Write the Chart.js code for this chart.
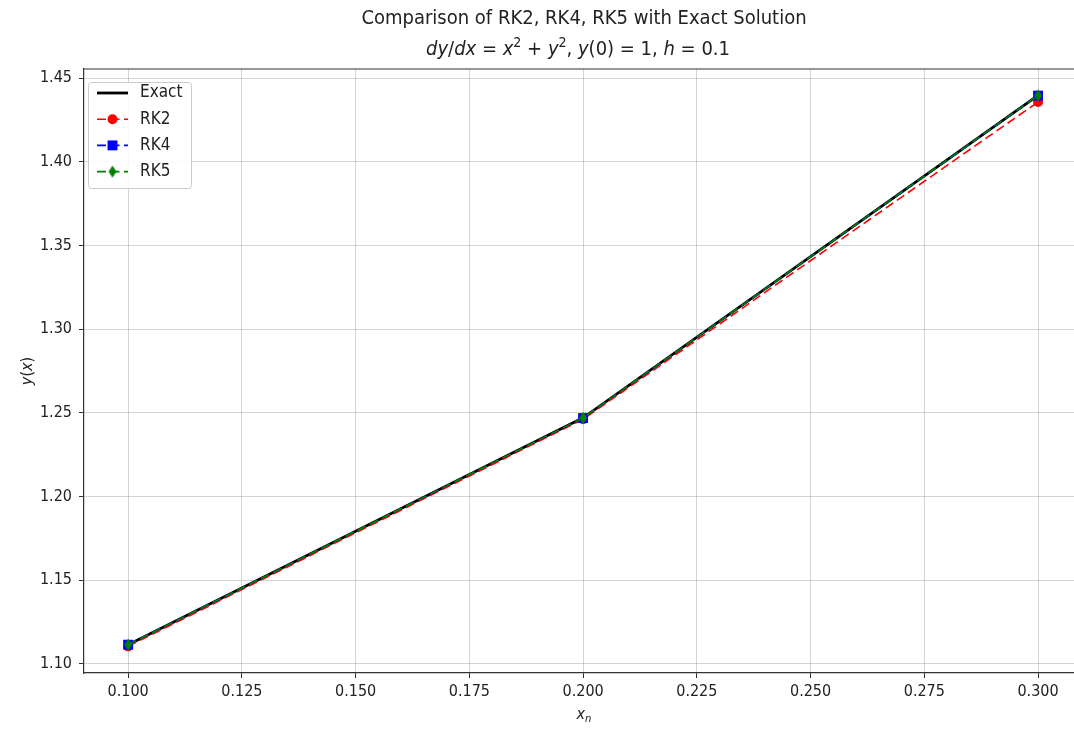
<!DOCTYPE html>
<html>
<head>
<meta charset="utf-8">
<script src="https://cdn.jsdelivr.net/npm/chart.js@4.4.1/dist/chart.umd.min.js"></script>
<style>
  html, body { margin: 0; padding: 0; background: #fff; overflow: hidden; }
  #wrap { width: 1074px; height: 729px; }
  canvas { display: block; }
</style>
</head>
<body>
<div id="wrap"><canvas id="rk-chart" width="1074" height="729"></canvas></div>
<script>
// values
var xn = [0.1, 0.2, 0.3];
var exactY = [1.1115, 1.2470, 1.4397];
var rk2Y = [1.1105, 1.2462, 1.4357];
var rk4Y = [1.1115, 1.2469, 1.4395];
var rk5Y = [1.1115, 1.2470, 1.4396];
var xTicks = [0.1, 0.125, 0.15, 0.175, 0.2, 0.225, 0.25, 0.275, 0.3];
var yTicks = [1.10, 1.15, 1.20, 1.25, 1.30, 1.35, 1.40, 1.45];
var seriesNames = ["Exact", "RK2", "RK4", "RK5"];

var FONT = "'DejaVu Sans Condensed', 'DejaVu Sans'";

function pts(ys) {
  return xn.map(function (x, i) { return { x: x, y: ys[i] }; });
}

// thin diamond marker like matplotlib 'd'
function thinDiamond(color, w, h) {
  var c = document.createElement("canvas");
  c.width = w + 2;
  c.height = h + 2;
  var g = c.getContext("2d");
  g.fillStyle = color;
  g.beginPath();
  g.moveTo(c.width / 2, 1);
  g.lineTo(c.width - 1, c.height / 2);
  g.lineTo(c.width / 2, c.height - 1);
  g.lineTo(1, c.height / 2);
  g.closePath();
  g.fill();
  return c;
}
var diamondImg = thinDiamond("#008000", 8, 12);

var dash = [9, 4.5];

var datasets = [
  {
    label: seriesNames[0], data: pts(exactY),
    borderColor: "#000000", borderWidth: 2.8, pointRadius: 0, order: 4
  },
  {
    label: seriesNames[1], data: pts(rk2Y),
    borderColor: "#ff0000", backgroundColor: "#ff0000", borderWidth: 1.6,
    borderDash: dash, pointStyle: "circle", pointRadius: 5, pointBorderWidth: 0, order: 3
  },
  {
    label: seriesNames[2], data: pts(rk4Y),
    borderColor: "#0000ff", backgroundColor: "#0000ff", borderWidth: 1.6,
    borderDash: dash, pointStyle: "rect", pointRadius: 7, pointBorderWidth: 0, order: 2
  },
  {
    label: seriesNames[3], data: pts(rk5Y),
    borderColor: "#008000", backgroundColor: "#008000", borderWidth: 1.6,
    borderDash: dash, pointStyle: diamondImg, pointRadius: 6, order: 1
  }
];

function drawRich(ctx, parts, cx, cy, size) {
  // parts: [text, kind] kind: r regular, i italic, sup superscript, sub subscript
  function fontFor(k) {
    var s = (k === "sup" || k === "sub") ? size * 0.7 : size;
    var it = (k === "i" || k === "sub") ? "italic " : "";
    return it + s + "px " + FONT;
  }
  var total = 0;
  parts.forEach(function (p) {
    ctx.font = fontFor(p[1]);
    p.w = ctx.measureText(p[0]).width;
    total += p.w;
  });
  var x = cx - total / 2;
  ctx.textAlign = "left";
  ctx.textBaseline = "alphabetic";
  var base = cy + size * 0.36;
  parts.forEach(function (p) {
    ctx.font = fontFor(p[1]);
    var y = base;
    if (p[1] === "sup") y = base - size * 0.42;
    if (p[1] === "sub") y = base + size * 0.2;
    ctx.fillText(p[0], x, y);
    x += p.w;
  });
}

var decorPlugin = {
  id: "decor",
  afterDraw: function (chart) {
    var ctx = chart.ctx;
    var a = chart.chartArea;
    var cx = 584;
    ctx.save();

    // top spine
    ctx.strokeStyle = "#333";
    ctx.lineWidth = 1.2;
    ctx.beginPath();
    ctx.moveTo(a.left, a.top);
    ctx.lineTo(a.right, a.top);
    ctx.stroke();

    // titles
    ctx.fillStyle = "#222";
    ctx.font = "20px " + FONT;
    ctx.textAlign = "center";
    ctx.textBaseline = "middle";
    ctx.fillText("Comparison of RK2, RK4, RK5 with Exact Solution", cx, 19);
    drawRich(ctx, [
      ["dy", "i"], ["/", "r"], ["dx", "i"], [" = ", "r"], ["x", "i"], ["2", "sup"],
      [" + ", "r"], ["y", "i"], ["2", "sup"], [", ", "r"], ["y", "i"], ["(0)", "r"],
      [" = ", "r"], ["1, ", "r"], ["h", "i"], [" = ", "r"], ["0.1", "r"]
    ], 578, 48, 20);

    // axis titles
    drawRich(ctx, [["x", "i"], ["n", "sub"]], cx, 713, 16);
    ctx.save();
    ctx.translate(26, (a.top + a.bottom) / 2);
    ctx.rotate(-Math.PI / 2);
    drawRich(ctx, [["y", "i"], ["(", "r"], ["x", "i"], [")", "r"]], 0, 0, 16);
    ctx.restore();

    // legend
    var lx = 88, ly = 82, lw = 103, lh = 106;
    ctx.fillStyle = "rgba(255,255,255,0.85)";
    ctx.strokeStyle = "#cccccc";
    ctx.lineWidth = 1;
    ctx.beginPath();
    ctx.roundRect(lx + 0.5, ly + 0.5, lw, lh, 3);
    ctx.fill();
    ctx.stroke();
    chart.data.datasets.forEach(function (ds, i) {
      var y = 93 + i * 26.2;
      ctx.strokeStyle = ds.borderColor;
      ctx.lineWidth = ds.borderWidth;
      ctx.setLineDash(ds.borderDash || []);
      ctx.beginPath();
      ctx.moveTo(97, y);
      ctx.lineTo(128, y);
      ctx.stroke();
      ctx.setLineDash([]);
      if (ds.pointRadius > 0) {
        ctx.fillStyle = ds.backgroundColor;
        if (typeof ds.pointStyle === "string") {
          ctx.beginPath();
          if (ds.pointStyle === "circle") ctx.arc(112.5, y, ds.pointRadius, 0, Math.PI * 2);
          else {
            var s = ds.pointRadius / Math.SQRT2;
            ctx.rect(112.5 - s, y - s, 2 * s, 2 * s);
          }
          ctx.fill();
        } else {
          ctx.drawImage(ds.pointStyle, 112.5 - ds.pointStyle.width / 2, y - ds.pointStyle.height / 2);
        }
      }
      ctx.fillStyle = "#222";
      ctx.font = "17px " + FONT;
      ctx.textAlign = "left";
      ctx.textBaseline = "middle";
      ctx.fillText(ds.label, 140, y);
    });
    ctx.restore();
  }
};

var gridColor = "rgba(176,176,176,0.55)";
var tickFont = { family: FONT, size: 16 };

var ctx = document.getElementById("rk-chart").getContext("2d");
var rkChart = new Chart(ctx, {
  type: "line",
  data: { datasets: datasets },
  plugins: [decorPlugin],
  options: {
    responsive: false,
    animation: false,
    layout: { autoPadding: false, padding: { top: 69, left: 0, right: 0, bottom: 0 } },
    plugins: {
      legend: { display: false },
      tooltip: { enabled: false },
      title: { display: false }
    },
    scales: {
      x: {
        type: "linear",
        min: 0.0903,
        max: 0.3079,
        afterFit: function (s) {
          s.height = 56;
          s.paddingLeft = 0;
          s.paddingRight = 0;
        },
        afterBuildTicks: function (s) {
          s.ticks = xTicks.map(function (v) { return { value: v }; });
        },
        grid: { color: gridColor, lineWidth: 1, tickColor: "#333", tickLength: 5 },
        border: { color: "#333", width: 1.2 },
        ticks: {
          font: tickFont, color: "#222", padding: 4, maxRotation: 0, autoSkip: false,
          callback: function (v) { return v.toFixed(3); }
        }
      },
      y: {
        type: "linear",
        min: 1.0946,
        max: 1.4554,
        afterFit: function (s) {
          s.width = 84;
          s.paddingTop = 0;
          s.paddingBottom = 0;
        },
        afterBuildTicks: function (s) {
          s.ticks = yTicks.map(function (v) { return { value: v }; });
        },
        grid: { color: gridColor, lineWidth: 1, tickColor: "#333", tickLength: 5 },
        border: { color: "#333", width: 1.2 },
        ticks: {
          font: tickFont, color: "#222", padding: 7, autoSkip: false,
          callback: function (v) { return v.toFixed(2); }
        }
      }
    }
  }
});
</script>
</body>
</html>
